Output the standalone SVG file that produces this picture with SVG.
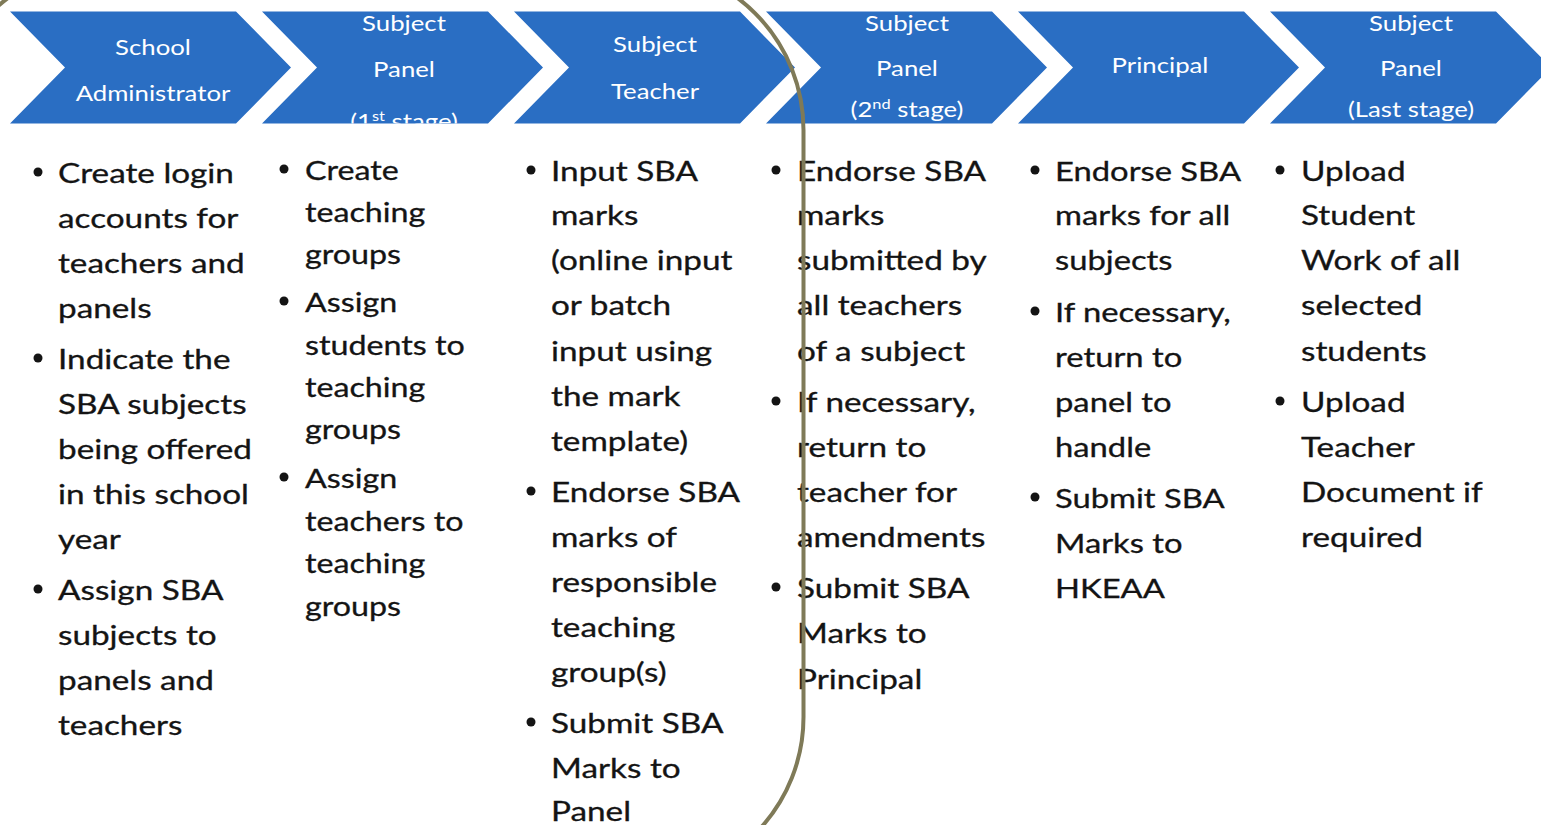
<svg xmlns="http://www.w3.org/2000/svg" width="1541" height="825" viewBox="0 0 1541 825">
<defs>
<style>
.chev{fill:#2a6ec3}
.ht{font-family:Lato,"Open Sans",sans-serif;font-size:22px;fill:#ffffff;text-anchor:middle}
.bt{font-family:Lato,"Open Sans",sans-serif;font-size:26px;fill:#141414;stroke:#141414;stroke-width:0.3}
.bul{fill:#141414}
.frame{fill:none;stroke:#7f7a58;stroke-width:4}
</style>
<path id="chevShape" d="M0,11.5 H226 L281,67.5 L226,123.5 H0 L55,67.5 Z"/>
<clipPath id="c1"><use href="#chevShape" x="10"/></clipPath>
<clipPath id="c2"><use href="#chevShape" x="262"/></clipPath>
<clipPath id="c3"><use href="#chevShape" x="514"/></clipPath>
<clipPath id="c4"><use href="#chevShape" x="766"/></clipPath>
<clipPath id="c5"><use href="#chevShape" x="1018"/></clipPath>
<clipPath id="c6"><use href="#chevShape" x="1270"/></clipPath>
</defs>
<rect width="1541" height="825" fill="#ffffff"/>

<g id="step1">
<use href="#chevShape" x="10" class="chev"/>
<g clip-path="url(#c1)"><text class="ht" transform="translate(153,0) scale(1.17,1)"><tspan x="0" y="55">School</tspan><tspan x="0" y="101">Administrator</tspan></text></g>
</g>
<g id="step2">
<use href="#chevShape" x="262" class="chev"/>
<g clip-path="url(#c2)"><text class="ht" transform="translate(404,0) scale(1.17,1)"><tspan x="0" y="31">Subject</tspan><tspan x="0" y="77">Panel</tspan><tspan x="0" y="129">(1<tspan font-size="14" dy="-8">st</tspan><tspan dy="8"> stage)</tspan></tspan></text></g>
</g>
<g id="step3">
<use href="#chevShape" x="514" class="chev"/>
<g clip-path="url(#c3)"><text class="ht" transform="translate(655,0) scale(1.17,1)"><tspan x="0" y="52">Subject</tspan><tspan x="0" y="99">Teacher</tspan></text></g>
</g>
<g id="step4">
<use href="#chevShape" x="766" class="chev"/>
<g clip-path="url(#c4)"><text class="ht" transform="translate(907,0) scale(1.17,1)"><tspan x="0" y="31">Subject</tspan><tspan x="0" y="76">Panel</tspan><tspan x="0" y="117">(2<tspan font-size="14" dy="-8">nd</tspan><tspan dy="8"> stage)</tspan></tspan></text></g>
</g>
<g id="step5">
<use href="#chevShape" x="1018" class="chev"/>
<g clip-path="url(#c5)"><text class="ht" transform="translate(1160,0) scale(1.17,1)"><tspan x="0" y="73">Principal</tspan></text></g>
</g>
<g id="step6">
<use href="#chevShape" x="1270" class="chev"/>
<g clip-path="url(#c6)"><text class="ht" transform="translate(1411,0) scale(1.17,1)"><tspan x="0" y="31">Subject</tspan><tspan x="0" y="76">Panel</tspan><tspan x="0" y="117">(Last stage)</tspan></text></g>
</g>

<g id="col1">
<circle class="bul" cx="38" cy="172" r="4.5"/>
<circle class="bul" cx="38" cy="358" r="4.5"/>
<circle class="bul" cx="38" cy="589" r="4.5"/>
<text class="bt" transform="translate(58,0) scale(1.28,1)">
<tspan x="0" y="183">Create login</tspan><tspan x="0" y="228">accounts for</tspan><tspan x="0" y="273">teachers and</tspan><tspan x="0" y="318">panels</tspan>
<tspan x="0" y="369">Indicate the</tspan><tspan x="0" y="414">SBA subjects</tspan><tspan x="0" y="459">being offered</tspan><tspan x="0" y="504">in this school</tspan><tspan x="0" y="549">year</tspan>
<tspan x="0" y="600">Assign SBA</tspan><tspan x="0" y="645">subjects to</tspan><tspan x="0" y="690">panels and</tspan><tspan x="0" y="735">teachers</tspan>
</text>
</g>

<g id="col2">
<circle class="bul" cx="284" cy="169" r="4.5"/>
<circle class="bul" cx="284" cy="301" r="4.5"/>
<circle class="bul" cx="284" cy="477" r="4.5"/>
<text class="bt" transform="translate(305,0) scale(1.24,1)">
<tspan x="0" y="180">Create</tspan><tspan x="0" y="222">teaching</tspan><tspan x="0" y="264">groups</tspan>
<tspan x="0" y="312">Assign</tspan><tspan x="0" y="355">students to</tspan><tspan x="0" y="397">teaching</tspan><tspan x="0" y="439">groups</tspan>
<tspan x="0" y="488">Assign</tspan><tspan x="0" y="531">teachers to</tspan><tspan x="0" y="573">teaching</tspan><tspan x="0" y="616">groups</tspan>
</text>
</g>

<g id="col3">
<circle class="bul" cx="531" cy="170" r="4.5"/>
<circle class="bul" cx="531" cy="491" r="4.5"/>
<circle class="bul" cx="531" cy="722" r="4.5"/>
<text class="bt" transform="translate(551,0) scale(1.28,1)">
<tspan x="0" y="181">Input SBA</tspan><tspan x="0" y="225">marks</tspan><tspan x="0" y="270">(online input</tspan><tspan x="0" y="315">or batch</tspan><tspan x="0" y="361">input using</tspan><tspan x="0" y="406">the mark</tspan><tspan x="0" y="451">template)</tspan>
<tspan x="0" y="502">Endorse SBA</tspan><tspan x="0" y="547">marks of</tspan><tspan x="0" y="592">responsible</tspan><tspan x="0" y="637">teaching</tspan><tspan x="0" y="682">group(s)</tspan>
<tspan x="0" y="733">Submit SBA</tspan><tspan x="0" y="778">Marks to</tspan><tspan x="0" y="821">Panel</tspan>
</text>
</g>

<g id="col4">
<circle class="bul" cx="776" cy="170" r="4.5"/>
<circle class="bul" cx="776" cy="401" r="4.5"/>
<circle class="bul" cx="776" cy="587" r="4.5"/>
<text class="bt" transform="translate(797,0) scale(1.28,1)">
<tspan x="0" y="181">Endorse SBA</tspan><tspan x="0" y="225">marks</tspan><tspan x="0" y="270">submitted by</tspan><tspan x="0" y="315">all teachers</tspan><tspan x="0" y="361">of a subject</tspan>
<tspan x="0" y="412">If necessary,</tspan><tspan x="0" y="457">return to</tspan><tspan x="0" y="502">teacher for</tspan><tspan x="0" y="547">amendments</tspan>
<tspan x="0" y="598">Submit SBA</tspan><tspan x="0" y="643">Marks to</tspan><tspan x="0" y="689">Principal</tspan>
</text>
</g>

<g id="col5">
<circle class="bul" cx="1035" cy="170" r="4.5"/>
<circle class="bul" cx="1035" cy="311" r="4.5"/>
<circle class="bul" cx="1035" cy="497" r="4.5"/>
<text class="bt" transform="translate(1055,0) scale(1.26,1)">
<tspan x="0" y="181">Endorse SBA</tspan><tspan x="0" y="225">marks for all</tspan><tspan x="0" y="270">subjects</tspan>
<tspan x="0" y="322">If necessary,</tspan><tspan x="0" y="367">return to</tspan><tspan x="0" y="412">panel to</tspan><tspan x="0" y="457">handle</tspan>
<tspan x="0" y="508">Submit SBA</tspan><tspan x="0" y="553">Marks to</tspan><tspan x="0" y="598">HKEAA</tspan>
</text>
</g>

<g id="col6">
<circle class="bul" cx="1280" cy="170" r="4.5"/>
<circle class="bul" cx="1280" cy="401" r="4.5"/>
<text class="bt" transform="translate(1301,0) scale(1.28,1)">
<tspan x="0" y="181">Upload</tspan><tspan x="0" y="225">Student</tspan><tspan x="0" y="270">Work of all</tspan><tspan x="0" y="315">selected</tspan><tspan x="0" y="361">students</tspan>
<tspan x="0" y="412">Upload</tspan><tspan x="0" y="457">Teacher</tspan><tspan x="0" y="502">Document if</tspan><tspan x="0" y="547">required</tspan>
</text>
</g>

<g id="frame">
<rect class="frame" x="-58" y="-35" width="861.5" height="917" rx="165" ry="165"/>
</g>
</svg>
